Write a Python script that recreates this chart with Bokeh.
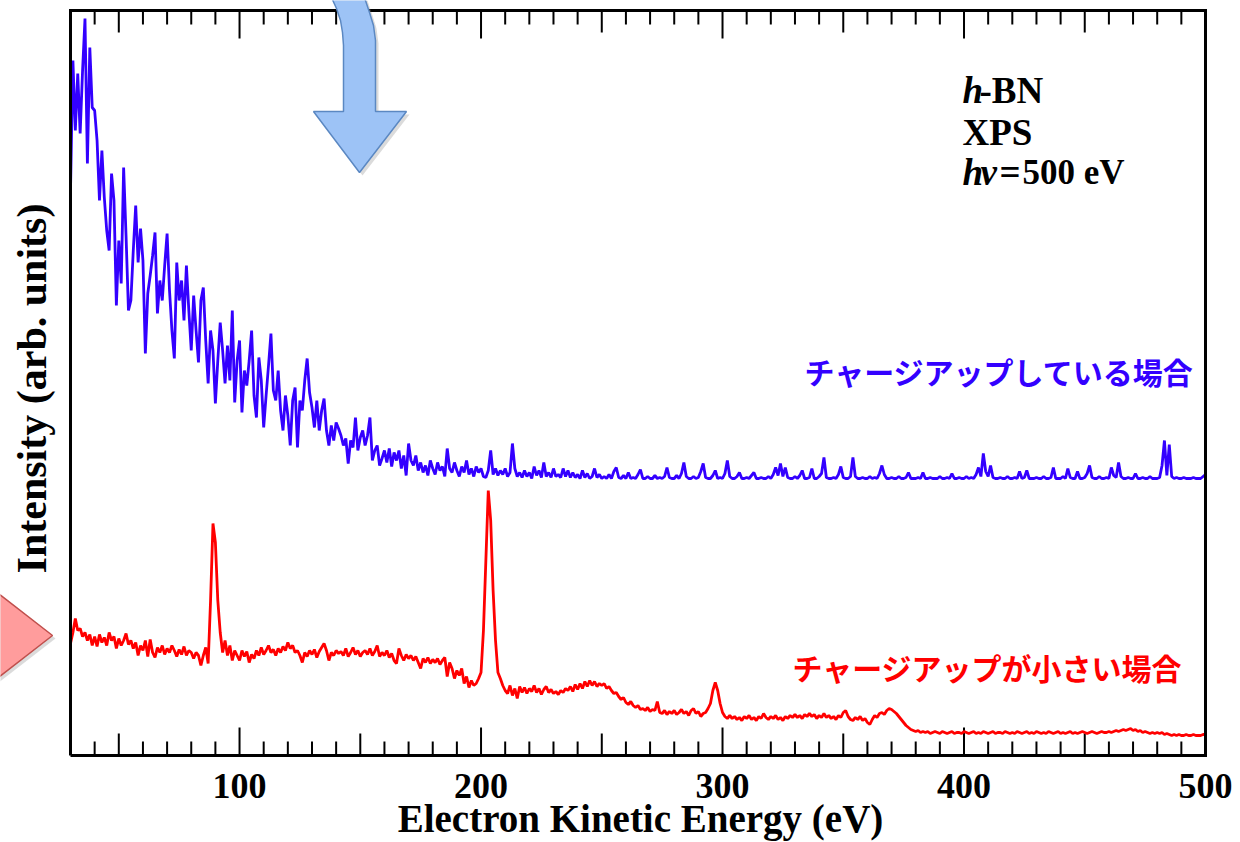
import numpy as np
from bokeh.plotting import figure
from bokeh.models import Range1d, Label, PolyAnnotation
from bokeh.core.properties import value
from bokeh.embed import file_html
from bokeh.resources import INLINE

# ---------------- data ----------------
energy = list(range(30, 501))  # electron kinetic energy (eV), 1 eV step

blue_charged = [
    565, 695, 625, 682, 622, 685, 737, 592, 708, 648,
    645, 615, 555, 605, 558, 525, 505, 582, 555, 450,
    515, 472, 588, 520, 445, 455, 505, 550, 493, 527,
    495, 402, 462, 480, 500, 523, 442, 475, 455, 490,
    522, 465, 425, 397, 493, 455, 475, 435, 490, 445,
    405, 460, 425, 393, 455, 468, 415, 372, 425, 405,
    352, 395, 433, 405, 372, 410, 375, 445, 353, 395,
    415, 343, 385, 370, 395, 425, 360, 338, 398, 375,
    328, 360, 390, 422, 365, 355, 385, 345, 325, 360,
    340, 310, 355, 368, 308, 355, 345, 375, 397, 363,
    348, 328, 355, 325, 345, 357, 325, 310, 330, 315,
    333, 327, 320, 310, 317, 292, 315, 308, 338, 305,
    318, 325, 310, 320, 338, 295, 305, 310, 290, 297,
    305, 293, 307, 289, 303, 295, 305, 287, 300, 280,
    312, 295, 290, 300, 285, 293, 283, 290, 280, 295,
    287, 281, 293, 285, 289, 279, 307, 287, 283, 293,
    285, 279, 289, 283, 295, 281, 287, 279, 289, 283,
    287, 279, 278, 285, 305, 281, 287, 280, 285, 281,
    287, 279, 283, 312, 287, 279, 283, 278, 285, 279,
    283, 277, 289, 280, 285, 278, 293, 279, 283, 278,
    287, 279, 281, 278, 287, 279, 285, 278, 283, 278,
    281, 277, 285, 278, 282, 277, 279, 287, 278, 281,
    277,
    279, 277, 281, 277, 284, 288, 278, 277, 280, 277,
    283, 277, 278, 277, 281, 286, 277, 277, 279, 277,
    277, 280, 277, 278, 277, 279, 288, 278, 277, 277,
    280, 277, 282, 293, 279, 277, 277, 279, 277, 278,
    284, 292, 278, 277, 277, 280, 285, 277, 278, 277,
    282, 295, 279, 277, 277, 279, 283, 277, 277, 278,
    277, 280, 283, 277, 277, 278, 277, 277, 279, 277,
    281, 288, 280, 292, 279, 288, 278, 277, 277, 279,
    277, 280, 285, 277, 277, 278, 287, 277, 277, 279,
    282, 298, 278, 277, 277, 278, 277, 281, 289, 278,
    277, 277, 279, 298, 279, 277, 277, 278, 277, 277,
    279, 277, 278, 277, 282, 290, 281, 277, 277, 278,
    277, 277, 279, 277, 277, 278, 283, 277, 277, 277,
    278, 277, 283, 277, 277, 278, 277, 277, 277, 279,
    277, 277, 278, 277, 282, 277, 277, 278, 277, 277,
    279, 277, 278, 277, 281, 288, 279, 302, 284, 279,
    290, 278, 277, 277, 278, 277, 277, 279, 277, 277,
    278, 277, 284, 277, 278, 285, 277, 277, 277, 278,
    277, 277, 279, 277, 277, 278, 288, 277, 277, 277,
    279, 277, 287, 278, 277, 277, 284, 277, 277, 278,
    282, 290, 278, 277, 277, 279, 277, 277, 278, 277,
    288, 280, 278, 293, 279, 277, 277, 278, 277, 277,
    282, 277, 277, 278, 277, 277, 279, 277, 277, 277,
    278, 290, 315, 280, 311, 279, 277, 278, 277, 277,
    278, 277, 277, 277, 278, 277, 277, 277, 279, 281,
]

red_small = [
    112, 123, 137, 125, 127, 119, 123, 115, 121, 110,
    119, 109, 121, 113, 118, 110, 123, 115, 119, 107,
    117, 110, 115, 122, 111, 115, 107, 113, 100, 110,
    105, 115, 99, 116, 103, 98, 108, 103, 110, 101,
    107, 103, 110, 105, 99, 106, 101, 109, 100, 105,
    103, 97, 103, 100, 90, 100, 108, 92, 155, 232,
    213, 155, 123, 103, 115, 100, 110, 95, 105, 100,
    95, 105, 99, 104, 93, 101, 97, 105, 100, 108,
    101, 105, 110, 103, 106, 100, 107, 103, 109, 105,
    113, 107, 110, 103, 105, 100, 93, 103, 99, 105,
    101, 106, 98, 104, 108, 112, 105, 95, 103, 100,
    105, 102, 104, 100, 107, 99, 103, 108, 101, 105,
    99, 103, 105, 101, 107, 100, 104, 110, 99, 103,
    100, 105, 98, 102, 95, 92, 107, 100, 95, 101,
    97, 100, 95, 99, 93, 87, 97, 93, 98, 92,
    96, 93, 97, 91, 95, 98, 79, 93, 87, 77,
    85, 80, 87, 72, 79, 68, 75, 70, 72, 77,
    83, 125, 195, 265, 235, 165, 115, 83, 77, 70,
    65, 62, 70, 60, 67, 57, 69, 63, 68, 62,
    67, 64, 70, 63, 67, 61, 66, 69, 63, 66,
    62, 64, 61, 65, 63, 67, 65, 69, 64, 71,
    66, 72, 67, 74, 69, 75, 70, 74, 69, 72,
    70, 72, 67, 69, 65, 62, 63, 59, 56, 58,
    53, 51, 54, 50, 48, 50, 46, 47, 45, 48,
    44, 46, 45, 54, 43, 42, 45, 41, 44, 42,
    45, 41, 43, 46, 42, 44, 40, 45, 47, 42,
    44, 39, 42, 43, 47, 52, 65, 73, 65, 52,
    43, 39, 37, 40, 37, 39, 36, 38, 35, 39,
    37, 40, 36, 38, 35, 39, 37, 42, 38, 36,
    39, 37, 40, 36, 38, 35, 39, 37, 40, 38,
    41, 38, 40, 37, 41, 39, 42, 39, 41, 37,
    40, 38, 42, 38, 40, 37, 39, 36, 40, 38,
    43, 45, 39, 36, 35, 38, 36, 39, 35, 37,
    33, 31, 36, 40, 38, 42, 43, 41, 45, 47,
    46, 44, 42, 39, 36, 33, 30, 28, 26, 25,
    24, 25, 23, 24, 23, 24, 22, 23, 24, 23,
    22, 24, 23, 22, 23, 24, 22, 23, 23, 22,
    24, 23, 22, 23, 24, 22, 23, 22, 24, 23,
    22, 23, 24, 22, 23, 23, 22, 24, 23, 22,
    23, 22, 24, 23, 22, 23, 24, 22, 23, 22,
    24, 23, 22, 23, 22, 24, 23, 22, 23, 24,
    22, 23, 22, 23, 24, 22, 23, 22, 23, 24,
    23, 22, 23, 24, 23, 22, 23, 24, 23, 23,
    24, 23, 24, 25, 24, 25, 26, 25, 26, 27,
    25, 26, 24, 25, 23, 24, 23, 22, 23, 22,
    23, 22, 23, 21, 22, 21, 20, 21, 20, 21,
    20, 20, 21, 20, 20, 21, 20, 20, 20, 21, 21,
]

major_ticks = [100, 200, 300, 400, 500]
tick_labels = ["100", "200", "300", "400", "500"]
mid_ticks = [50, 150, 250, 350, 450]
minor_ticks = [40, 60, 70, 80, 90, 110, 120, 130, 140, 160, 170, 180, 190,
               210, 220, 230, 240, 260, 270, 280, 290, 310, 320, 330, 340,
               360, 370, 380, 390, 410, 420, 430, 440, 460, 470, 480, 490]

x_title = "Electron Kinetic Energy (eV)"
y_title = "Intensity (arb. units)"
label_charged = "チャージアップしている場合"
label_small = "チャージアップが小さい場合"

SERIF = "Liberation Serif"
JP = "Noto Sans CJK JP"
BLUE = "#3300FF"
RED = "#FF0000"

# plot box: 30..500 eV horizontally, 0..745 (arb. units) vertically
X_MIN, X_MAX = 30, 500
Y_MIN, Y_TOP = 0, 745
W, H = 1240, 842
BOX_L, BOX_R, BOX_T, BOX_B = 70, 1205, 10, 755     # box edges in canvas px
SX = (BOX_R - BOX_L) / (X_MAX - X_MIN)              # px per eV
SY = (BOX_B - BOX_T) / (Y_TOP - Y_MIN)              # px per unit

# the frame fills the whole canvas; the box, ticks and titles are drawn inside it
x_range = Range1d(X_MIN - BOX_L / SX, X_MAX + (W - BOX_R) / SX)
y_range = Range1d(Y_MIN - (H - BOX_B) / SY, Y_TOP + BOX_T / SY)

p = figure(width=W, height=H, output_backend="svg", toolbar_location=None,
           x_range=x_range, y_range=y_range, title=None,
           x_axis_location=None, y_axis_location=None,
           min_border=0, min_border_left=0, min_border_right=0,
           min_border_top=0, min_border_bottom=0)
p.grid.visible = False
p.background_fill_color = "white"
p.border_fill_color = "white"
p.outline_line_color = None

def px_x(px):   # canvas px -> eV
    return X_MIN + (px - BOX_L) / SX

def px_y(py):   # canvas px -> intensity units
    return Y_MIN + (BOX_B - py) / SY

# tick marks (inside, on bottom and top edges), drawn as thin bars
TICK_W = 2 / SX   # 2 px wide
for ticks, length in ((minor_ticks, 14), (mid_ticks, 22), (major_ticks, 28)):
    L = length / SY
    n = len(ticks)
    p.vbar(x=ticks, bottom=[Y_MIN] * n, top=[Y_MIN + L] * n, width=TICK_W,
           fill_color="black", line_color=None)
    p.vbar(x=ticks, bottom=[Y_TOP - L] * n, top=[Y_TOP] * n, width=TICK_W,
           fill_color="black", line_color=None)

# spectra
p.line(energy, red_small, line_color=RED, line_width=2.8)
p.line(energy, blue_charged, line_color=BLUE, line_width=2.8)

# box
p.line([X_MIN, X_MAX, X_MAX, X_MIN, X_MIN], [Y_MIN, Y_MIN, Y_TOP, Y_TOP, Y_MIN],
       line_color="black", line_width=3, line_join="miter")

# serif text is anchored on its baseline; the renderer puts the baseline
# about 0.36 em lower than asked, so anchors are raised by that amount
SHIFT = 0.36

# tick labels
p.text(x=major_ticks, y=[px_y(798 - SHIFT * 36)] * len(major_ticks), text=tick_labels,
       text_font=value(SERIF), text_font_style="bold", text_font_size="36px",
       text_color="black", text_align="center", text_baseline="alphabetic")

# texts
def lab(px, py, t, style="bold", color="black", font=SERIF, size=37,
        baseline="alphabetic", align="left", angle=0):
    p.add_layout(Label(x=px_x(px), y=px_y(py), text=t, text_font=font,
                       text_font_style=style, text_font_size=f"{size}px",
                       text_color=color, angle=angle, angle_units="deg",
                       text_baseline=baseline, text_align=align))

lab(640, 832 - SHIFT * 39, x_title, size=39, align="center")
lab(47 - SHIFT * 42, 388, y_title, size=42, align="center", angle=90)

b1, b2, b3 = 103 - SHIFT * 37, 145 - SHIFT * 37, 185 - SHIFT * 37
lab(962, b1, "h", style="bold italic")
lab(979, b1, "-BN")
lab(962, b2, "XPS")
lab(962, b3, "h", style="bold italic")
lab(980, b3, "ν", style="bold italic")
lab(999, b3, "=")
lab(1022, b3, "500 eV", size=35)

lab(804, 370, label_charged, color=BLUE, font=JP, size=30, baseline="middle")
lab(792, 666, label_small, color=RED, font=JP, size=30, baseline="middle")

# decorative arrows (canvas pixels, from the top-left corner)
blue_arrow_x = [331, 336, 340, 342, 343, 343, 313, 359, 406, 375, 375, 373, 369, 364]
blue_arrow_y = [-3, 8, 20, 32, 45, 111, 111, 172, 111, 111, 40, 25, 12, -3]
red_arrow_x = [-6, 52, -6]
red_arrow_y = [590, 635, 680]

def arrow(xs, ys, fill, line):
    p.add_layout(PolyAnnotation(xs=[x + 3 for x in xs], ys=[y + 3 for y in ys],
                                xs_units="canvas", ys_units="canvas",
                                fill_color="#888888", fill_alpha=0.3,
                                line_color=None, level="overlay"))
    p.add_layout(PolyAnnotation(xs=xs, ys=ys,
                                xs_units="canvas", ys_units="canvas",
                                fill_color=fill, fill_alpha=1.0,
                                line_color=line, line_width=1.5, line_alpha=1.0,
                                level="overlay"))

arrow(blue_arrow_x, blue_arrow_y, "#9DC3F6", "#5B88C2")
arrow(red_arrow_x, red_arrow_y, "#FF9C9C", "#C0504D")

open("out.html", "w").write(file_html(p, INLINE))
